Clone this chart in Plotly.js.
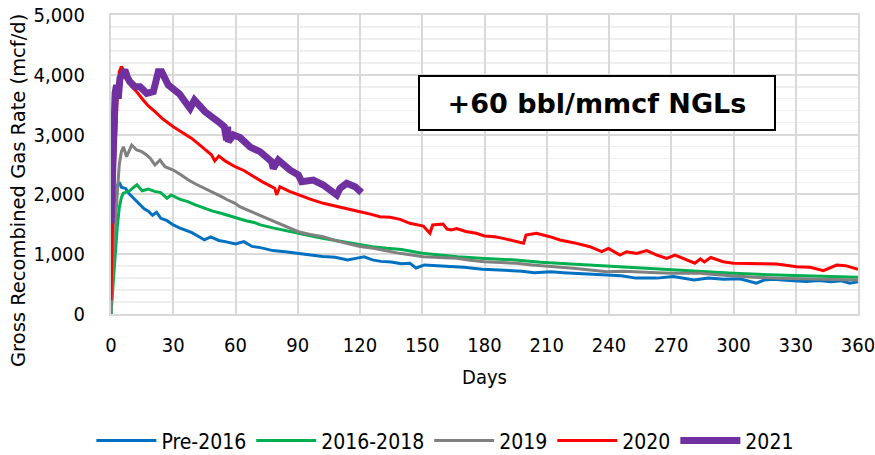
<!DOCTYPE html>
<html>
<head>
<meta charset="utf-8">
<script src="https://cdn.plot.ly/plotly-3.0.1.min.js"></script>
<style>html,body{margin:0;padding:0;background:#fff;}#chart{width:875px;height:455px;}</style>
</head>
<body>
<div id="chart"></div>
<script>
// ---- data ----
const seriesNames = ["Pre-2016", "2016-2018", "2019", "2020", "2021"];
const seriesColors = ["#0070C0", "#00B050", "#808080", "#FF0000", "#7030A0"];

const pre2016Days = [0,1,2,3,4,5,7,9,12,14,16,18,20,22,24,27,30,33,36,39,42,45,48,52,55,60,64,68,72,78,84,90,96,102,108,114,118,122,126,130,135,140,144,147,151,157,163,170,179,186,192,198,204,212,218,223,230,239,246,253,263,271,281,288,295,303,311,315,319,327,335,341,347,352,356,360];
const pre2016Rate = [0,800,1700,2150,2200,2120,2100,2000,1900,1830,1760,1720,1650,1700,1600,1560,1490,1440,1400,1360,1300,1240,1290,1230,1210,1170,1210,1130,1110,1060,1040,1015,990,960,950,905,930,955,905,880,870,840,850,770,820,810,790,780,750,740,725,715,690,705,690,680,670,650,640,600,600,625,570,600,580,590,515,570,580,560,545,560,540,555,515,540];

const y1618Days = [0,1,2,3,4,5,6,9,11,12.5,15,18,21,24,27,29,33,37,41,45,49,53,57,61,65,69,72,78,84,90,96,102,108,115,120,126,133,140,150,158,167,180,195,207,212,223,239,255,271,284,300,321,343,360];
const y1618Rate = [0,500,1000,1450,1780,1950,2020,2060,2120,2160,2060,2090,2050,2030,1935,1990,1920,1880,1820,1770,1720,1685,1640,1600,1560,1530,1490,1440,1400,1350,1310,1265,1230,1185,1160,1126,1100,1080,1015,985,958,930,903,865,855,836,803,765,736,719,680,652,624,613];

const y2019Days = [0,1,2,3,4,5,6,7.5,10,12.4,14.8,17.2,19,21.2,23.6,26,30,34,37.3,41,45.3,49,53.3,56,59.8,62,67,72,77,81.4,86,90.3,96,102.3,108,115,120,126.4,133,139,145,150.5,158,166.6,173,180,188,195.5,203,211.6,222.8,231,238.9,247,255,263,271,284,292,300,310,321,332,343,352,360];
const y2019Rate = [0,1000,1500,2100,2500,2714,2797,2630,2826,2742,2714,2658,2600,2491,2575,2463,2408,2320,2240,2170,2102,2030,1962,1910,1851,1795,1720,1655,1580,1516,1440,1376,1330,1293,1230,1170,1130,1098,1050,1014,985,958,945,931,900,875,860,847,820,800,764,735,708,715,708,690,680,680,655,635,615,596,590,580,575,569];

const y2020Days = [0,0.7,2,3,4,5,6,7,10,12.4,15,18,21.2,25,30,35,38.9,45,48.5,50,52,55,59.8,64,68.6,73,77.4,79,79.8,81.4,86,90.3,96,102.3,108,113.6,120,125,129.6,134.5,139.3,144,150.5,153.7,155,160,162,164,166.6,171,176,180,185,189,195.5,198.8,200,205,211.5,216.4,222.8,230.8,236.5,239.7,245.3,248.5,253.3,258.2,263,267.8,271.8,275.8,279,281.4,284,286,289,295,300,311,320.8,330.5,337,343.3,346,349.7,354,360];
const y2020Rate = [230,1500,2800,3600,4050,4140,4080,3950,3800,3717,3600,3480,3383,3260,3132,3030,2937,2760,2658,2560,2640,2560,2463,2400,2296,2210,2129,2100,1990,2129,2050,1990,1920,1851,1810,1767,1711,1670,1627,1617,1583,1516,1471,1349,1488,1505,1420,1404,1430,1380,1349,1304,1290,1265,1209,1182,1321,1349,1293,1237,1193,1126,1042,1098,986,1042,1014,1059,986,931,986,931,875,850,920,870,945,875,847,847,835,791,780,724,760,819,808,747];

const y2021Days = [0,1,2,2.7,3.5,4.3,5.5,6.7,8,9.1,11.6,14,17.2,20.4,22.8,24.4,27.6,30.8,33,35.7,38.1,40.2,45.3,51.7,54.6,55.7,56.2,56.6,59,62.2,67.1,71.8,77.4,78.2,80.6,86.2,90.3,91.9,97.5,102.3,107.2,108.8,110.4,113.6,117.6,120.8];
const y2021Rate = [1517,2900,3700,3829,3600,3940,4050,4080,3950,3884,3800,3800,3690,3717,4052,4052,3829,3745,3680,3550,3439,3578,3383,3216,3132,2909,3132,2881,2993,2950,2790,2714,2547,2436,2575,2408,2324,2212,2240,2157,2018,1990,2102,2185,2129,2029];

const xTickVals = [0,30,60,90,120,150,180,210,240,270,300,330,360];
const yTickVals = [0,1000,2000,3000,4000,5000];
const annotationText = "+60 bbl/mmcf NGLs";
const yTitle = "Gross Recombined Gas Rate (mcf/d)";
const xTitle = "Days";

// ---- traces ----
const allDays = [pre2016Days, y1618Days, y2019Days, y2020Days, y2021Days];
const allRates = [pre2016Rate, y1618Rate, y2019Rate, y2020Rate, y2021Rate];
const widths = [3, 3, 3, 3, 7];

const traces = seriesNames.map((name, i) => ({
  type: "scatter",
  mode: "lines",
  name: name,
  x: allDays[i],
  y: allRates[i],
  line: { color: seriesColors[i], width: widths[i], shape: "linear" },
  hoverinfo: "x+y+name"
}));

const tickFont = { family: "DejaVu Sans Condensed, DejaVu Sans, sans-serif", size: 20, color: "#000" };

const L = 111, R = 858, T = 15, B = 314;

const layout = {
  width: 875,
  height: 455,
  autosize: false,
  margin: { l: L, r: 875 - R, t: T, b: 455 - B },
  paper_bgcolor: "#ffffff",
  plot_bgcolor: "#ffffff",
  showlegend: true,
  legend: {
    orientation: "h",
    xref: "container", yref: "container",
    x: 0.509, xanchor: "center",
    y: 0.031, yanchor: "middle",
    font: { family: "DejaVu Sans Condensed, DejaVu Sans, sans-serif", size: 21, color: "#000" },
    bgcolor: "rgba(0,0,0,0)",
    itemwidth: 60,
    itemsizing: "trace"
  },
  xaxis: {
    range: [0, 360],
    tickvals: xTickVals,
    ticktext: xTickVals.map(String),
    showgrid: true, gridcolor: "#d9d9d9", gridwidth: 2,
    zeroline: false,
    showline: true, linecolor: "#d9d9d9", linewidth: 2, mirror: true,
    ticks: "",
    ticklabelstandoff: 12,
    ticklabeloverflow: "allow",
    tickfont: tickFont,
    title: { text: xTitle, font: tickFont, standoff: 14 },
    automargin: false,
    fixedrange: true
  },
  yaxis: {
    range: [0, 5000],
    tickvals: yTickVals,
    tickformat: ",d",
    showgrid: true, gridcolor: "#d9d9d9", gridwidth: 2,
    minor: { dtick: 200, tick0: 0, showgrid: true, gridcolor: "#efefef", gridwidth: 1.5, ticks: "" },
    zeroline: false,
    showline: true, linecolor: "#d9d9d9", linewidth: 2, mirror: true,
    ticks: "",
    ticklabelstandoff: 20,
    tickfont: tickFont,
    automargin: false,
    fixedrange: true
  },
  annotations: [
    {
      // y-axis title, placed where the reference draws it
      xref: "paper", yref: "paper",
      x: (18 - L) / (R - L), y: (B - 191) / (B - T),
      xanchor: "center", yanchor: "middle",
      text: yTitle,
      textangle: -90,
      showarrow: false,
      font: { family: "DejaVu Sans, sans-serif", size: 19.5, color: "#000" }
    },
    {
      xref: "paper", yref: "paper",
      x: (597 - L) / (R - L), y: (B - 103) / (B - T),
      xanchor: "center", yanchor: "middle",
      text: "<b>" + annotationText + "</b>",
      showarrow: false,
      font: { family: "DejaVu Sans, sans-serif", size: 27, color: "#000" },
      bgcolor: "#ffffff",
      bordercolor: "#000000",
      borderwidth: 2,
      borderpad: 0,
      width: 354,
      height: 52,
      align: "center",
      valign: "middle"
    }
  ]
};

Plotly.newPlot("chart", traces, layout, { staticPlot: true, displayModeBar: false });
</script>
</body>
</html>
